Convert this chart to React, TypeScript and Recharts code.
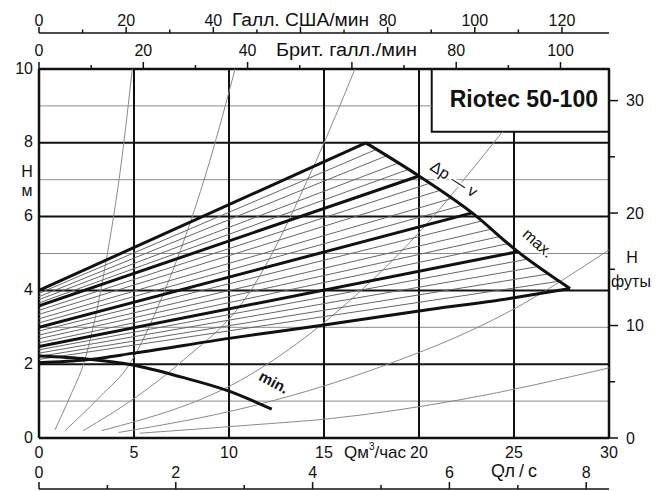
import React from 'react'
import { ComposedChart, Line, XAxis, YAxis, ReferenceLine, ReferenceArea } from 'recharts'

// flow Q in m3/h, head H in m
const qTicks = [0, 5, 10, 15, 20, 25, 30]
const hTicks = [0, 2, 4, 6, 8, 10]
const ftTicks = [0, 5, 10, 15, 20, 25, 30]
const lsTicks = [0, 1, 2, 3, 4, 5, 6, 7, 8]
const ukTicks = [0, 10, 20, 30, 40, 50, 60, 70, 80, 90, 100]
const usTicks = [0, 10, 20, 30, 40, 50, 60, 70, 80, 90, 100, 110, 120]
// labels hidden under the axis titles
const hiddenTop = [60]

const gridQ = [5, 10, 15, 20]
const gridH = [2, 4, 6, 8]
const gridHMinor = [1, 3, 5, 7]

// Δp-v control lines (thick)
const ctrl1 = [{ q: 0, h: 4.0 }, { q: 17.2, h: 8.0 }]
const ctrl2 = [{ q: 0, h: 3.58 }, { q: 20, h: 7.1 }]
const ctrl3 = [{ q: 0, h: 3.0 }, { q: 22.8, h: 6.1 }]
const ctrl4 = [{ q: 0, h: 2.48 }, { q: 25.2, h: 5.05 }]
const ctrl5 = [
  { q: 0, h: 2.04 }, { q: 2.5, h: 2.12 }, { q: 5, h: 2.3 }, { q: 10, h: 2.7 },
  { q: 15, h: 3.06 }, { q: 20, h: 3.44 }, { q: 25, h: 3.8 }, { q: 27.95, h: 4.05 },
]
const maxCurve = [
  { q: 17.2, h: 8.0 }, { q: 20, h: 7.1 }, { q: 22.8, h: 6.1 }, { q: 25.2, h: 5.05 }, { q: 27.95, h: 4.05 },
]
const minCurve = [
  { q: 0, h: 2.22 }, { q: 2.5, h: 2.14 }, { q: 5, h: 1.97 }, { q: 7.5, h: 1.65 }, { q: 10, h: 1.27 }, { q: 12.25, h: 0.78 },
]

// intermediate settings (thin)
const thinStartH = [3.92, 3.83, 3.75, 3.66, 3.46, 3.35, 3.23, 3.12, 2.9, 2.79, 2.69, 2.58, 2.39, 2.3, 2.21, 2.13]
const thinEndQ = [17.75, 18.3, 18.9, 19.45, 20.55, 21.1, 21.7, 22.25, 23.3, 23.8, 24.25, 24.7, 25.75, 26.3, 26.85, 27.4]
const thinEndH = [7.82, 7.65, 7.45, 7.28, 6.9, 6.71, 6.49, 6.3, 5.88, 5.66, 5.46, 5.27, 4.85, 4.65, 4.45, 4.25]

// system curves
const sys1 = [{ q: 0.84, h: 0.22 }, { q: 1.63, h: 1.12 }, { q: 2.4, h: 2.1 }, { q: 3.5, h: 4.7 }, { q: 4.35, h: 7.53 }, { q: 4.91, h: 10 }]
const sys2 = [{ q: 1.37, h: 0.2 }, { q: 3.21, h: 1.12 }, { q: 4.79, h: 2.02 }, { q: 6.5, h: 3.85 }, { q: 8, h: 5.9 }, { q: 9, h: 7.53 }, { q: 10.32, h: 10 }]
const sys3 = [{ q: 2.33, h: 0.2 }, { q: 5.14, h: 1.12 }, { q: 7.6, h: 2.11 }, { q: 10.93, h: 3.83 }, { q: 14.6, h: 7.53 }, { q: 16.63, h: 10 }]
const sys4 = [{ q: 3.3, h: 0.2 }, { q: 11.1, h: 1.71 }, { q: 16, h: 3.56 }, { q: 21.2, h: 6.27 }, { q: 22.77, h: 7.26 }, { q: 24.4, h: 8.3 }]
const sys5 = [{ q: 4.2, h: 0.15 }, { q: 11.1, h: 0.85 }, { q: 17, h: 1.75 }, { q: 24.9, h: 3.47 }, { q: 30, h: 5.1 }]
const sys6 = [{ q: 5.3, h: 0.13 }, { q: 11.1, h: 0.35 }, { q: 15.4, h: 0.53 }, { q: 22.1, h: 1.03 }, { q: 30, h: 1.9 }]

const thinLines = thinStartH.map((h, i) => [{ q: 0, h }, { q: thinEndQ[i], h: thinEndH[i] }])

// tick rows so the secondary scales have something bound to them
const lsRows = lsTicks.map((v) => ({ v, h: 0 }))
const ukRows = ukTicks.map((v) => ({ v, h: 10 }))
const usRows = usTicks.map((v) => ({ v, h: 10 }))

const font = '"Liberation Sans", Arial, Helvetica, sans-serif'
const ink = '#111'

function QTick({ x, y, payload }: any) {
  return (
    <text x={x} y={y + 14} textAnchor="middle" dominantBaseline="central" fontSize={16} fill={ink} fontFamily={font}>
      {payload.value}
    </text>
  )
}

function LsTick({ x, y, payload }: any) {
  const major = payload.value % 2 === 0
  return (
    <g>
      <line x1={x} x2={x} y1={y} y2={y - (major ? 7 : 4)} stroke={ink} strokeWidth={1.5} />
      {major && (
        <text x={x} y={y - 17} textAnchor="middle" dominantBaseline="central" fontSize={16} fill={ink} fontFamily={font}>
          {payload.value}
        </text>
      )}
    </g>
  )
}

function UkTick({ x, y, payload }: any) {
  const major = payload.value % 20 === 0
  return (
    <g>
      <line x1={x} x2={x} y1={y} y2={y - (major ? 7 : 4)} stroke={ink} strokeWidth={1.5} />
      {major && !hiddenTop.includes(payload.value) && (
        <text x={x} y={y - 19} textAnchor="middle" dominantBaseline="central" fontSize={16} fill={ink} fontFamily={font}>
          {payload.value}
        </text>
      )}
    </g>
  )
}

function UsTick({ x, y, payload }: any) {
  const major = payload.value % 20 === 0
  return (
    <g>
      <line x1={x} x2={x} y1={y} y2={y - (major ? 6 : 3.5)} stroke={ink} strokeWidth={1.5} />
      {major && !hiddenTop.includes(payload.value) && (
        <text x={x} y={y - 13} textAnchor="middle" dominantBaseline="central" fontSize={16} fill={ink} fontFamily={font}>
          {payload.value}
        </text>
      )}
    </g>
  )
}

function HTick({ x, y, payload }: any) {
  return (
    <text x={x - 6} y={y - 1} textAnchor="end" dominantBaseline="central" fontSize={16} fill={ink} fontFamily={font}>
      {payload.value}
    </text>
  )
}

function FtTick({ x, y, payload }: any) {
  const major = payload.value % 10 === 0
  return (
    <g>
      <line x1={x} x2={x + (major ? 9 : 6)} y1={y} y2={y} stroke={ink} strokeWidth={1.5} />
      {major && (
        <text x={x + 17} y={y} textAnchor="start" dominantBaseline="central" fontSize={16} fill={ink} fontFamily={font}>
          {payload.value}
        </text>
      )}
    </g>
  )
}

const curve = (key: string, data: any[], stroke: string, width: number, type: any = 'linear', xId = 'q') => (
  <Line
    key={key}
    xAxisId={xId}
    yAxisId="h"
    data={data}
    dataKey="h"
    type={type}
    stroke={stroke}
    strokeWidth={width}
    dot={false}
    activeDot={false}
    legendType="none"
    isAnimationActive={false}
  />
)

const halo = { stroke: '#fff', strokeWidth: 4, paintOrder: 'stroke' as const }

export default function App() {
  return (
    <div style={{ position: 'absolute', left: 0, top: 0, width: 664, height: 491, background: '#fff' }}>
      <ComposedChart width={664} height={491} margin={{ top: 0, right: 0, bottom: 0, left: 0 }}>
        <XAxis xAxisId="q" dataKey="q" type="number" orientation="bottom" domain={[0, 30]} ticks={qTicks}
          interval={0} height={51} axisLine={false} tickLine={false} tickSize={0} tickMargin={0} tick={QTick} allowDataOverflow />
        <XAxis xAxisId="rLs" dataKey="v" type="number" orientation="bottom" domain={[0, 30 / 3.6]} ticks={lsTicks}
          interval={0} height={2} axisLine={{ stroke: ink, strokeWidth: 1.5 }} tickLine={false} tickSize={0} tickMargin={0} tick={LsTick} allowDataOverflow />
        <XAxis xAxisId="uk" dataKey="v" type="number" orientation="top" domain={[0, 109.3]} ticks={ukTicks}
          interval={0} height={36} axisLine={false} tickLine={false} tickSize={0} tickMargin={0} tick={UkTick} allowDataOverflow />
        <XAxis xAxisId="us" dataKey="v" type="number" orientation="top" domain={[0, 130.8]} ticks={usTicks}
          interval={0} height={33} axisLine={{ stroke: ink, strokeWidth: 1.5 }} tickLine={false} tickSize={0} tickMargin={0} tick={UsTick} allowDataOverflow />
        <YAxis yAxisId="h" type="number" orientation="left" domain={[0, 10]} ticks={hTicks}
          interval={0} width={39} axisLine={false} tickLine={false} tickSize={0} tickMargin={0} tick={HTick} allowDataOverflow />
        <YAxis yAxisId="ft" type="number" orientation="right" domain={[0, 32.81]} ticks={ftTicks}
          interval={0} width={55} axisLine={false} tickLine={false} tickSize={0} tickMargin={0} tick={FtTick} allowDataOverflow />

        {gridHMinor.map((h) => (
          <ReferenceLine key={'hm' + h} xAxisId="q" yAxisId="h" y={h} stroke="#8a8a8a" strokeWidth={1} />
        ))}
        <ReferenceLine xAxisId="q" yAxisId="h" segment={[{ x: 0, y: 9 }, { x: 20.67, y: 9 }]} stroke="#8a8a8a" strokeWidth={1} />
        {gridQ.map((q) => (
          <ReferenceLine key={'q' + q} xAxisId="q" yAxisId="h" x={q} stroke={ink} strokeWidth={2} />
        ))}
        <ReferenceLine xAxisId="q" yAxisId="h" segment={[{ x: 25, y: 0 }, { x: 25, y: 8.3 }]} stroke={ink} strokeWidth={2} />
        {gridH.map((h) => (
          <ReferenceLine key={'h' + h} xAxisId="q" yAxisId="h" y={h} stroke={ink} strokeWidth={2} />
        ))}
        <ReferenceLine xAxisId="q" yAxisId="h" x={0} stroke={ink} strokeWidth={2.5} />
        <ReferenceLine xAxisId="q" yAxisId="h" x={30} stroke={ink} strokeWidth={2.5} />
        <ReferenceLine xAxisId="q" yAxisId="h" y={0} stroke={ink} strokeWidth={2.5} />
        <ReferenceLine xAxisId="q" yAxisId="h" y={10} stroke={ink} strokeWidth={2.5} />
        <ReferenceArea xAxisId="q" yAxisId="h" x1={20.67} x2={30} y1={8.3} y2={10} fill="#fff" fillOpacity={1} stroke={ink} strokeWidth={2} />

        {curve('ls', lsRows, 'none', 0, 'linear', 'rLs')}
        {curve('uk', ukRows, 'none', 0, 'linear', 'uk')}
        {curve('us', usRows, 'none', 0, 'linear', 'us')}

        {curve('s1', sys1, '#8a8a8a', 1, 'monotone')}
        {curve('s2', sys2, '#8a8a8a', 1, 'monotone')}
        {curve('s3', sys3, '#8a8a8a', 1, 'monotone')}
        {curve('s4', sys4, '#8a8a8a', 1, 'monotone')}
        {curve('s5', sys5, '#8a8a8a', 1, 'monotone')}
        {curve('s6', sys6, '#8a8a8a', 1, 'monotone')}
        {thinLines.map((d, i) => curve('t' + i, d, '#666', 1))}
        {curve('c1', ctrl1, ink, 3)}
        {curve('c2', ctrl2, ink, 3)}
        {curve('c3', ctrl3, ink, 3)}
        {curve('c4', ctrl4, ink, 3)}
        {curve('c5', ctrl5, ink, 3, 'monotone')}
        {curve('max', maxCurve, ink, 3, 'monotone')}
        {curve('min', minCurve, ink, 3, 'monotone')}
      </ComposedChart>

      <svg width={664} height={491} style={{ position: 'absolute', left: 0, top: 0, pointerEvents: 'none' }} fontFamily={font} fill={ink}>
        <text x={232} y={20} fontSize={18} dominantBaseline="central" textLength={137} lengthAdjust="spacingAndGlyphs">Галл. США/мин</text>
        <text x={276} y={50} fontSize={18} dominantBaseline="central" textLength={141} lengthAdjust="spacingAndGlyphs">Брит. галл./мин</text>
        <text x={344} y={452} fontSize={17} dominantBaseline="central" {...halo}>
          Qм<tspan fontSize={10} dy={-6}>3</tspan><tspan dy={6}>/час</tspan>
        </text>
        <text x={491} y={471} fontSize={18} dominantBaseline="central" textLength={46} lengthAdjust="spacing" {...halo}>Qл / с</text>
        <text x={27} y={171} fontSize={16} textAnchor="middle" dominantBaseline="central">Н</text>
        <text x={27} y={190} fontSize={16} textAnchor="middle" dominantBaseline="central">м</text>
        <text x={632} y={257} fontSize={16} textAnchor="middle" dominantBaseline="central">Н</text>
        <text x={631} y={281} fontSize={16} textAnchor="middle" dominantBaseline="central">футы</text>
        <text x={598} y={99} fontSize={23} fontWeight="bold" textAnchor="end" dominantBaseline="central">Riotec 50-100</text>
        <text x={274} y={382} fontSize={15} fontWeight="bold" textAnchor="middle" dominantBaseline="central" transform="rotate(28 274 382)" {...halo}>min.</text>
        <text x={454} y={179} fontSize={16} textAnchor="middle" dominantBaseline="central" transform="rotate(33 454 179)" {...halo}>Δp — v</text>
        <text x={538} y={243} fontSize={16} textAnchor="middle" dominantBaseline="central" transform="rotate(42 538 243)" {...halo}>max.</text>
      </svg>
    </div>
  )
}
